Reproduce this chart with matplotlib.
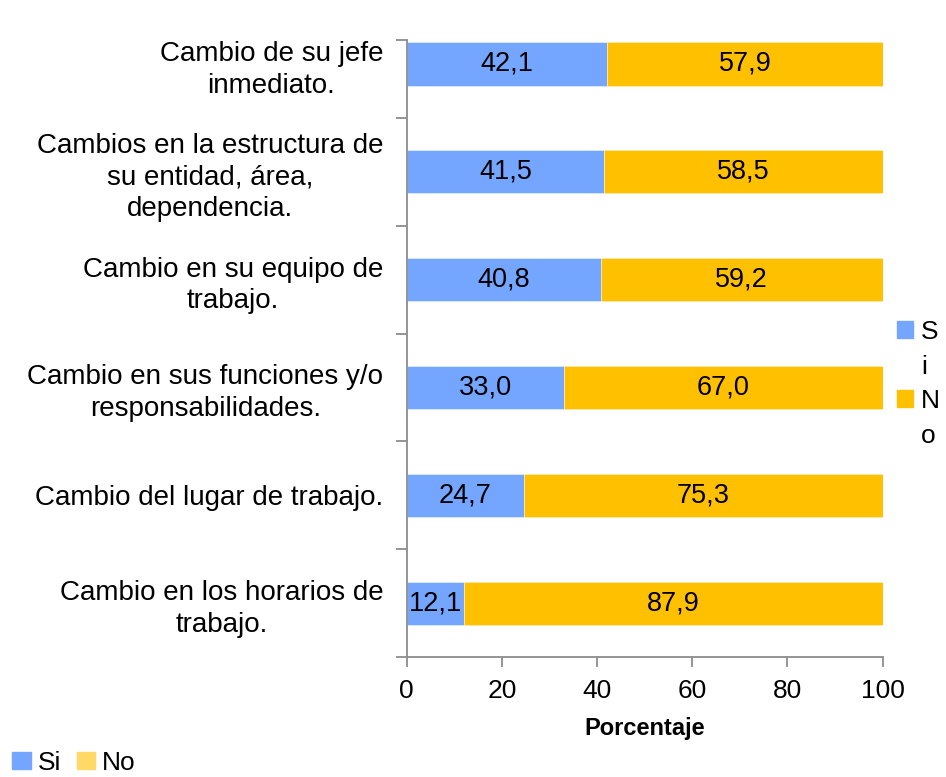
import matplotlib.pyplot as plt
from matplotlib.patches import Patch

categorias = [
    "Cambio en los horarios de\ntrabajo.",
    "Cambio del lugar de trabajo.",
    "Cambio en sus funciones y/o\nresponsabilidades.",
    "Cambio en su equipo de\ntrabajo.",
    "Cambios en la estructura de\nsu entidad, área,\ndependencia.",
    "Cambio de su jefe\ninmediato.",
]
si = [12.1, 24.7, 33.0, 40.8, 41.5, 42.1]
no = [87.9, 75.3, 67.0, 59.2, 58.5, 57.9]

AZUL = "#75a6ff"
AMARILLO = "#ffc000"

plt.rcParams["font.family"] = ["Liberation Sans", "DejaVu Sans"]

fig = plt.figure(figsize=(9.46, 7.77), dpi=100)
ax = fig.add_axes([0.430, 0.1544, 0.503, 0.7941])

y = list(range(len(categorias)))
b1 = ax.barh(y, si, height=0.4, color=AZUL, edgecolor="#dde8ff", linewidth=0.6)
b2 = ax.barh(y, no, left=si, height=0.4, color=AMARILLO, edgecolor="#ffe9a8", linewidth=0.6)

fmt = lambda v: f"{v:.1f}".replace(".", ",")
for bars, vals in ((b1, si), (b2, no)):
    ax.bar_label(bars, labels=[fmt(v) for v in vals], label_type="center",
                 fontsize=19.5, color="black")

ax.set_xlim(0, 100)
ax.set_ylim(-0.5, 5.222)
ax.set_xticks(range(0, 101, 20))
ax.set_xticklabels([str(v) for v in range(0, 101, 20)], fontsize=19)

bordes = [-0.5, 0.5, 1.5, 2.5, 3.5, 4.5, 5.222]
ax.set_yticks(bordes)
ax.set_yticklabels([])
ax.set_yticks(y, minor=True)
ax.set_yticklabels(categorias, minor=True, fontsize=20, multialignment="center",
                   linespacing=1.28)
ax.tick_params(axis="y", which="minor", length=0, pad=17)
ax.tick_params(axis="y", which="major", length=8, color="#8c8c8c", width=1.3)
ax.tick_params(axis="x", length=7, color="#8c8c8c", width=1.3, pad=9)

for s in ("top", "right"):
    ax.spines[s].set_visible(False)
for s in ("left", "bottom"):
    ax.spines[s].set_color("#8c8c8c")
    ax.spines[s].set_linewidth(1.3)

ax.set_xlabel("Porcentaje", fontsize=17, fontweight="bold", labelpad=10)

# leyenda derecha (texto partido en dos lineas)
h_der = [Patch(color=AZUL), Patch(color="none"), Patch(color=AMARILLO), Patch(color="none")]
fig.legend(h_der, ["S", "i", "N", "o"], loc="upper left", bbox_to_anchor=(0.948, 0.588),
           frameon=False, fontsize=19, handlelength=0.62, handleheight=0.62,
           handletextpad=0.3, labelspacing=0.4, borderpad=0, borderaxespad=0)

# leyenda inferior
h_inf = [Patch(color=AZUL), Patch(color="#ffd966")]
fig.legend(h_inf, ["Si", "No"], loc="lower left", bbox_to_anchor=(0.013, 0.003),
           ncol=2, frameon=False, prop={"size": 19},
           handlelength=0.7, handleheight=0.6, handletextpad=0.25, columnspacing=0.6,
           borderpad=0, borderaxespad=0)

fig.savefig("out.png", dpi=100)
